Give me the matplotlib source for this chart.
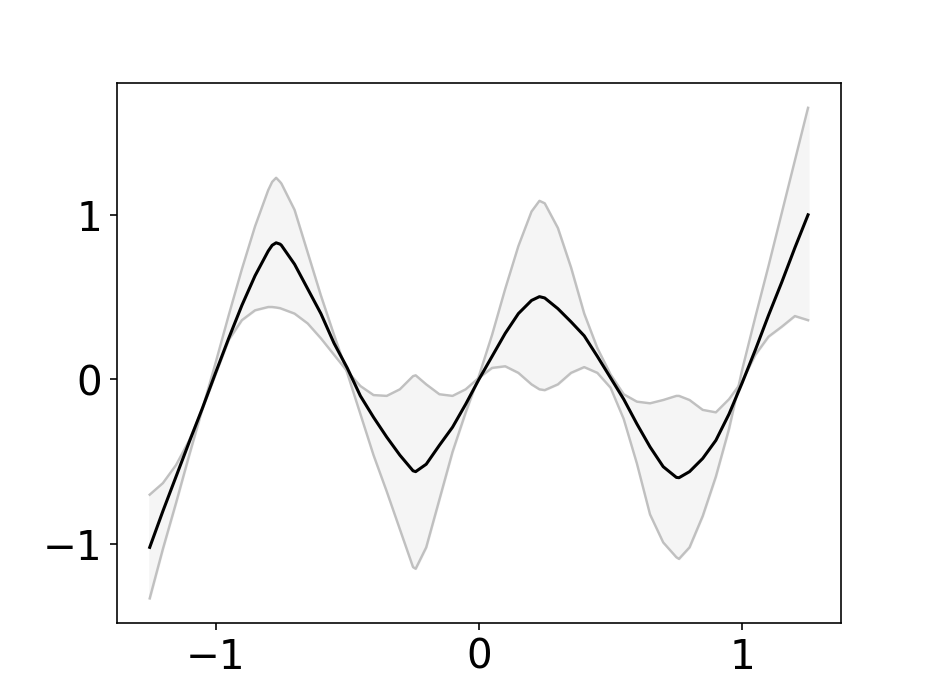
import numpy as np
import matplotlib
matplotlib.use("Agg")
import matplotlib.pyplot as plt

# sample positions (extra points around the peaks)
x = [-1.25, -1.20, -1.15, -1.10, -1.05, -1.00, -0.95, -0.90, -0.85, -0.80,
     -0.785, -0.77, -0.755, -0.75, -0.70, -0.65, -0.60, -0.55, -0.50, -0.45,
     -0.40, -0.35, -0.30, -0.25, -0.24, -0.20, -0.15, -0.10, -0.05, 0.00,
     0.05, 0.10, 0.15, 0.20, 0.23, 0.25, 0.30, 0.35, 0.40, 0.45,
     0.50, 0.55, 0.60, 0.65, 0.70, 0.75, 0.76, 0.80, 0.85, 0.90,
     0.95, 1.00, 1.05, 1.10, 1.15, 1.20, 1.25]

# predicted mean (black line)
mean = [-1.02, -0.80, -0.59, -0.38, -0.175, 0.04, 0.25, 0.45, 0.63, 0.78,
        0.815, 0.83, 0.822, 0.815, 0.70, 0.55, 0.40, 0.22, 0.07, -0.10,
        -0.23, -0.35, -0.46, -0.555, -0.56, -0.515, -0.40, -0.29, -0.15, 0.00,
        0.14, 0.28, 0.40, 0.48, 0.503, 0.495, 0.43, 0.35, 0.265, 0.14,
        0.01, -0.12, -0.27, -0.41, -0.53, -0.595, -0.597, -0.56, -0.48, -0.37,
        -0.21, -0.02, 0.18, 0.39, 0.59, 0.80, 1.00]

# the two grey band edges
band_a = [-1.33, -1.03, -0.75, -0.46, -0.18, 0.10, 0.39, 0.67, 0.93, 1.15,
          1.20, 1.225, 1.20, 1.19, 1.03, 0.77, 0.51, 0.27, 0.04, -0.21,
          -0.46, -0.68, -0.91, -1.14, -1.15, -1.02, -0.73, -0.44, -0.20, 0.02,
          0.27, 0.55, 0.81, 1.02, 1.085, 1.07, 0.92, 0.68, 0.40, 0.19,
          0.03, -0.09, -0.135, -0.145, -0.125, -0.10, -0.10, -0.125, -0.185, -0.20,
          -0.12, -0.01, 0.15, 0.26, 0.32, 0.385, 0.36]

band_b = [-0.70, -0.63, -0.52, -0.37, -0.18, 0.03, 0.24, 0.36, 0.42, 0.44,
          0.44, 0.437, 0.433, 0.43, 0.40, 0.34, 0.25, 0.15, 0.05, -0.04,
          -0.095, -0.10, -0.06, 0.02, 0.025, -0.03, -0.09, -0.10, -0.06, 0.01,
          0.07, 0.08, 0.04, -0.03, -0.06, -0.065, -0.03, 0.04, 0.075, 0.04,
          -0.05, -0.24, -0.51, -0.82, -0.99, -1.08, -1.09, -1.02, -0.83, -0.59,
          -0.30, 0.06, 0.38, 0.69, 1.01, 1.33, 1.65]

plt.rcParams['font.size'] = 20

fig, ax = plt.subplots(figsize=(6.4, 4.8), dpi=146)

ax.fill_between(x, band_a, band_b, color='whitesmoke')
ax.plot(x, band_a, color='silver', lw=1.2)
ax.plot(x, band_b, color='silver', lw=1.2)
ax.plot(x, mean, color='black', lw=1.5)

ax.set_xticks([-1, 0, 1])
ax.set_yticks([-1, 0, 1])

fig.savefig('out.png', dpi=146)
